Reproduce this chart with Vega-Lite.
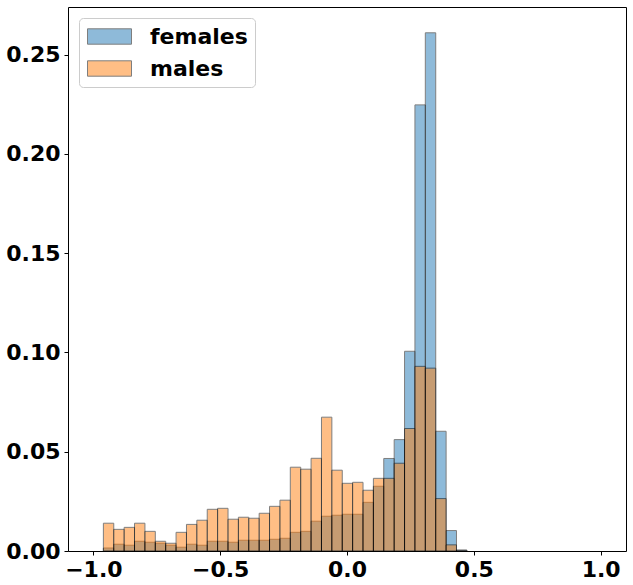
{
  "$schema": "https://vega.github.io/schema/vega-lite/v6.json",
  "width": 558,
  "height": 544,
  "autosize": {"type": "none"},
  "padding": {"left": 68, "top": 7, "right": 7, "bottom": 34},
  "background": "white",
  "data": {
    "values": [
      {"sex": "females", "lo": -0.9605, "hi": -0.9196, "frac": 0.0015},
      {"sex": "females", "lo": -0.9196, "hi": -0.8786, "frac": 0.0034},
      {"sex": "females", "lo": -0.8786, "hi": -0.8377, "frac": 0.0029},
      {"sex": "females", "lo": -0.8377, "hi": -0.7967, "frac": 0.0049},
      {"sex": "females", "lo": -0.7967, "hi": -0.7558, "frac": 0.0044},
      {"sex": "females", "lo": -0.7558, "hi": -0.7148, "frac": 0.0039},
      {"sex": "females", "lo": -0.7148, "hi": -0.6739, "frac": 0.0029},
      {"sex": "females", "lo": -0.6739, "hi": -0.6329, "frac": 0.0019},
      {"sex": "females", "lo": -0.6329, "hi": -0.5920, "frac": 0.0034},
      {"sex": "females", "lo": -0.5920, "hi": -0.5510, "frac": 0.0029},
      {"sex": "females", "lo": -0.5510, "hi": -0.5101, "frac": 0.0049},
      {"sex": "females", "lo": -0.5101, "hi": -0.4691, "frac": 0.0049},
      {"sex": "females", "lo": -0.4691, "hi": -0.4282, "frac": 0.0044},
      {"sex": "females", "lo": -0.4282, "hi": -0.3873, "frac": 0.0054},
      {"sex": "females", "lo": -0.3873, "hi": -0.3463, "frac": 0.0054},
      {"sex": "females", "lo": -0.3463, "hi": -0.3054, "frac": 0.0054},
      {"sex": "females", "lo": -0.3054, "hi": -0.2644, "frac": 0.0059},
      {"sex": "females", "lo": -0.2644, "hi": -0.2235, "frac": 0.0064},
      {"sex": "females", "lo": -0.2235, "hi": -0.1825, "frac": 0.0094},
      {"sex": "females", "lo": -0.1825, "hi": -0.1416, "frac": 0.0099},
      {"sex": "females", "lo": -0.1416, "hi": -0.1006, "frac": 0.0150},
      {"sex": "females", "lo": -0.1006, "hi": -0.0597, "frac": 0.0175},
      {"sex": "females", "lo": -0.0597, "hi": -0.0187, "frac": 0.0180},
      {"sex": "females", "lo": -0.0187, "hi": 0.0222, "frac": 0.0185},
      {"sex": "females", "lo": 0.0222, "hi": 0.0632, "frac": 0.0185},
      {"sex": "females", "lo": 0.0632, "hi": 0.1041, "frac": 0.0245},
      {"sex": "females", "lo": 0.1041, "hi": 0.1450, "frac": 0.0326},
      {"sex": "females", "lo": 0.1450, "hi": 0.1860, "frac": 0.0466},
      {"sex": "females", "lo": 0.1860, "hi": 0.2269, "frac": 0.0561},
      {"sex": "females", "lo": 0.2269, "hi": 0.2679, "frac": 0.1006},
      {"sex": "females", "lo": 0.2679, "hi": 0.3088, "frac": 0.2247},
      {"sex": "females", "lo": 0.3088, "hi": 0.3498, "frac": 0.2610},
      {"sex": "females", "lo": 0.3498, "hi": 0.3907, "frac": 0.0603},
      {"sex": "females", "lo": 0.3907, "hi": 0.4317, "frac": 0.0103},
      {"sex": "females", "lo": 0.4317, "hi": 0.4726, "frac": 0.0005},
      {"sex": "males", "lo": -0.9605, "hi": -0.9196, "frac": 0.0140},
      {"sex": "males", "lo": -0.9196, "hi": -0.8786, "frac": 0.0109},
      {"sex": "males", "lo": -0.8786, "hi": -0.8377, "frac": 0.0119},
      {"sex": "males", "lo": -0.8377, "hi": -0.7967, "frac": 0.0140},
      {"sex": "males", "lo": -0.7967, "hi": -0.7558, "frac": 0.0099},
      {"sex": "males", "lo": -0.7558, "hi": -0.7148, "frac": 0.0049},
      {"sex": "males", "lo": -0.7148, "hi": -0.6739, "frac": 0.0039},
      {"sex": "males", "lo": -0.6739, "hi": -0.6329, "frac": 0.0094},
      {"sex": "males", "lo": -0.6329, "hi": -0.5920, "frac": 0.0134},
      {"sex": "males", "lo": -0.5920, "hi": -0.5510, "frac": 0.0155},
      {"sex": "males", "lo": -0.5510, "hi": -0.5101, "frac": 0.0210},
      {"sex": "males", "lo": -0.5101, "hi": -0.4691, "frac": 0.0215},
      {"sex": "males", "lo": -0.4691, "hi": -0.4282, "frac": 0.0160},
      {"sex": "males", "lo": -0.4282, "hi": -0.3873, "frac": 0.0170},
      {"sex": "males", "lo": -0.3873, "hi": -0.3463, "frac": 0.0165},
      {"sex": "males", "lo": -0.3463, "hi": -0.3054, "frac": 0.0190},
      {"sex": "males", "lo": -0.3054, "hi": -0.2644, "frac": 0.0225},
      {"sex": "males", "lo": -0.2644, "hi": -0.2235, "frac": 0.0256},
      {"sex": "males", "lo": -0.2235, "hi": -0.1825, "frac": 0.0422},
      {"sex": "males", "lo": -0.1825, "hi": -0.1416, "frac": 0.0412},
      {"sex": "males", "lo": -0.1416, "hi": -0.1006, "frac": 0.0467},
      {"sex": "males", "lo": -0.1006, "hi": -0.0597, "frac": 0.0674},
      {"sex": "males", "lo": -0.0597, "hi": -0.0187, "frac": 0.0407},
      {"sex": "males", "lo": -0.0187, "hi": 0.0222, "frac": 0.0341},
      {"sex": "males", "lo": 0.0222, "hi": 0.0632, "frac": 0.0346},
      {"sex": "males", "lo": 0.0632, "hi": 0.1041, "frac": 0.0306},
      {"sex": "males", "lo": 0.1041, "hi": 0.1450, "frac": 0.0366},
      {"sex": "males", "lo": 0.1450, "hi": 0.1860, "frac": 0.0366},
      {"sex": "males", "lo": 0.1860, "hi": 0.2269, "frac": 0.0442},
      {"sex": "males", "lo": 0.2269, "hi": 0.2679, "frac": 0.0617},
      {"sex": "males", "lo": 0.2679, "hi": 0.3088, "frac": 0.0930},
      {"sex": "males", "lo": 0.3088, "hi": 0.3498, "frac": 0.0921},
      {"sex": "males", "lo": 0.3498, "hi": 0.3907, "frac": 0.0264},
      {"sex": "males", "lo": 0.3907, "hi": 0.4317, "frac": 0.0031},
      {"sex": "males", "lo": 0.4317, "hi": 0.4726, "frac": 0.0003}
    ]
  },
  "mark": {"type": "bar", "opacity": 0.5, "stroke": "black", "strokeWidth": 1},
  "encoding": {
    "x": {
      "field": "lo",
      "type": "quantitative",
      "title": null,
      "scale": {"domain": [-1.1, 1.1], "nice": false, "zero": false},
      "axis": {"values": [-1, -0.5, 0, 0.5, 1], "format": ".1f"}
    },
    "x2": {"field": "hi"},
    "y": {
      "field": "frac",
      "type": "quantitative",
      "stack": null,
      "title": null,
      "scale": {"domain": [0, 0.274], "nice": false},
      "axis": {"values": [0, 0.05, 0.1, 0.15, 0.2, 0.25], "format": ".2f"}
    },
    "y2": {"datum": 0},
    "color": {
      "field": "sex",
      "type": "nominal",
      "scale": {"domain": ["females", "males"], "range": ["#1f77b4", "#ff7f0e"]},
      "legend": {
        "title": null,
        "orient": "top-left",
        "offset": 11,
        "symbolType": "M-2,-0.7L2,-0.7L2,0.7L-2,0.7Z",
        "symbolSize": 484,
        "symbolOffset": 12,
        "symbolOpacity": 0.5,
        "symbolStrokeColor": "black",
        "symbolStrokeWidth": 1,
        "labelOffset": 29,
        "rowPadding": 9,
        "padding": 7,
        "fillColor": "white",
        "strokeColor": "#cccccc",
        "cornerRadius": 4
      }
    }
  },
  "config": {
    "view": {"stroke": "black", "strokeWidth": 1},
    "axis": {
      "grid": false,
      "domain": false,
      "tickColor": "black",
      "tickSize": 4,
      "tickWidth": 1,
      "labelColor": "black",
      "labelFont": "DejaVu Sans",
      "labelFontWeight": "bold",
      "labelFontSize": 22,
      "labelPadding": 4
    },
    "legend": {
      "labelFont": "DejaVu Sans",
      "labelFontWeight": "bold",
      "labelFontSize": 22,
      "labelColor": "black"
    }
  }
}
